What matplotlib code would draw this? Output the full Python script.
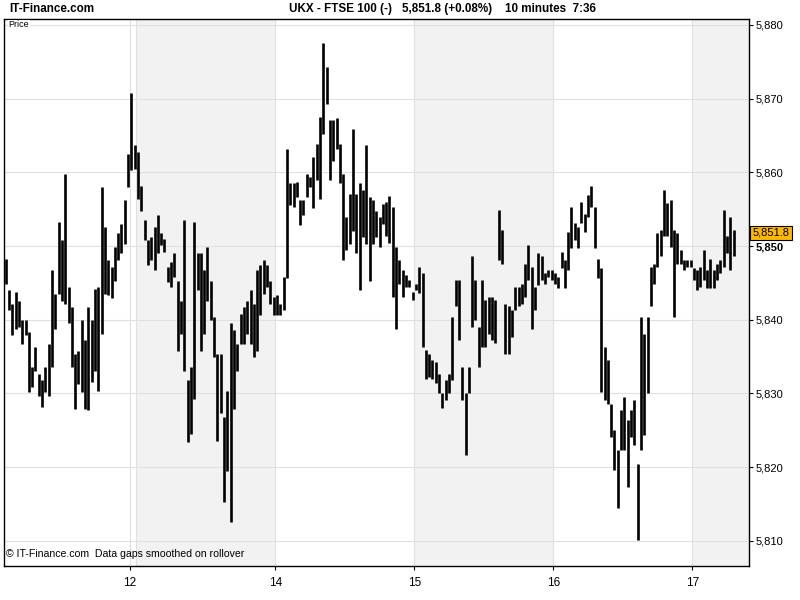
import matplotlib.pyplot as plt
from matplotlib.ticker import FuncFormatter
import numpy as np

plt.rcParams['font.family'] = ['Liberation Sans', 'DejaVu Sans']

# 10 minute bars, high / low
highs = [
    5848.3, 5844.1, 5842.2, 5843.8, 5842.6, 5839.9, 5839.9, 5838.3, 5833.6, 5836.3,
    5832.7, 5831.8, 5833.6, 5836.7, 5846.7, 5843.5, 5853.3, 5850.8, 5859.8, 5844.4,
    5841.7, 5835.4, 5835.8, 5839.9, 5837.2, 5841.7, 5839.9, 5844.2, 5844.4, 5858.0,
    5852.6, 5848.1, 5847.1, 5849.9, 5851.7, 5853.0, 5856.2, 5862.5, 5870.7, 5863.7,
    5862.8, 5858.2, 5853.5, 5850.8, 5851.2, 5852.6, 5854.2, 5851.7, 5851.0, 5847.1,
    5847.8, 5849.0, 5845.3, 5842.6, 5853.5, 5831.8, 5833.6, 5853.3, 5849.0, 5849.0,
    5846.7, 5849.9, 5845.3, 5840.4, 5835.4, 5835.4, 5826.8, 5830.4, 5839.5, 5838.6,
    5836.7, 5840.8, 5841.7, 5842.6, 5844.0, 5842.2, 5846.7, 5847.4, 5848.1, 5847.4,
    5845.3, 5843.1, 5843.3, 5842.2, 5845.8, 5863.2, 5858.5, 5858.5, 5858.7, 5856.2,
    5856.2, 5859.8, 5859.4, 5862.1, 5863.9, 5867.5, 5877.5, 5874.3, 5867.1, 5867.1,
    5867.3, 5863.9, 5859.8, 5853.9, 5857.1, 5865.9, 5857.1, 5858.5, 5857.6, 5863.7,
    5856.7, 5856.2, 5854.8, 5853.9, 5855.7, 5856.0, 5856.8, 5855.3, 5849.9, 5848.1,
    5846.7, 5846.1, 5845.4, 5843.8, 5844.9, 5847.2, 5846.3, 5835.9, 5835.4, 5834.5,
    5834.3, 5832.7, 5830.0, 5831.8, 5832.7, 5840.4, 5845.4, 5845.4, 5833.6, 5830.0,
    5833.6, 5848.6, 5845.4, 5839.0, 5845.4, 5842.7, 5843.1, 5843.1, 5842.7, 5854.9,
    5852.2, 5842.2, 5841.8, 5841.3, 5844.5, 5844.5, 5844.9, 5847.6, 5850.1, 5847.2,
    5844.5, 5849.0, 5848.6, 5846.3, 5846.7, 5846.7, 5846.3, 5845.8, 5849.2, 5848.1,
    5851.9, 5855.3, 5853.1, 5852.6, 5856.0, 5854.4, 5856.9, 5858.1, 5855.3, 5848.3,
    5847.0, 5836.3, 5834.5, 5828.6, 5825.0, 5822.3, 5827.7, 5829.5, 5826.4, 5827.7,
    5829.1, 5820.5, 5840.4, 5838.1, 5840.4, 5847.2, 5847.6, 5851.7, 5852.2, 5857.6,
    5855.8, 5856.2, 5852.2, 5851.7, 5849.5, 5848.1, 5848.1, 5848.1, 5847.0, 5846.7,
    5847.2, 5849.5, 5846.7, 5848.3, 5846.7, 5847.6, 5848.1, 5854.9, 5851.3, 5854.0,
    5852.2,
]
lows = [
    5844.9, 5841.3, 5837.9, 5838.8, 5839.0, 5836.7, 5837.9, 5830.2, 5830.9, 5833.1,
    5829.7, 5828.1, 5830.2, 5829.7, 5833.6, 5838.8, 5843.5, 5842.6, 5842.2, 5839.5,
    5833.6, 5827.9, 5831.3, 5830.2, 5827.9, 5827.7, 5831.5, 5833.1, 5830.4, 5838.1,
    5843.5, 5843.3, 5843.0, 5845.3, 5848.1, 5849.0, 5850.3, 5858.0, 5860.3, 5860.5,
    5856.4, 5854.8, 5850.8, 5847.4, 5848.1, 5846.7, 5849.0, 5850.1, 5849.2, 5845.1,
    5844.4, 5845.8, 5835.8, 5838.1, 5833.1, 5823.4, 5824.5, 5829.3, 5844.0, 5835.8,
    5838.1, 5842.6, 5839.9, 5834.9, 5823.6, 5827.3, 5815.3, 5819.5, 5812.6, 5827.9,
    5833.1, 5836.7, 5836.7, 5838.1, 5836.7, 5834.9, 5835.8, 5840.6, 5843.5, 5844.4,
    5842.2, 5840.6, 5840.6, 5840.6, 5841.3, 5845.6, 5855.5, 5855.3, 5856.7, 5852.8,
    5854.2, 5856.7, 5858.0, 5855.1, 5858.9, 5856.4, 5865.2, 5869.3, 5858.9, 5861.6,
    5863.2, 5858.5, 5848.1, 5849.4, 5850.3, 5852.1, 5849.0, 5844.0, 5851.2, 5850.3,
    5845.3, 5850.3, 5851.2, 5849.9, 5853.0, 5851.3, 5850.4, 5843.1, 5838.8, 5844.9,
    5843.1, 5844.5, 5844.5, 5842.7, 5844.0, 5843.6, 5836.3, 5832.0, 5832.3, 5832.0,
    5831.4, 5830.0, 5828.0, 5829.1, 5830.0, 5831.8, 5841.8, 5837.2, 5829.1, 5821.6,
    5830.0, 5839.0, 5840.0, 5833.6, 5836.3, 5836.3, 5838.1, 5837.2, 5836.8, 5848.1,
    5847.6, 5835.4, 5835.4, 5837.7, 5841.3, 5841.8, 5842.2, 5843.1, 5845.4, 5838.8,
    5841.3, 5844.7, 5845.4, 5844.9, 5845.8, 5845.4, 5844.9, 5844.3, 5847.0, 5844.3,
    5846.7, 5849.7, 5850.8, 5849.7, 5853.1, 5851.9, 5854.0, 5855.3, 5849.7, 5845.6,
    5830.2, 5829.1, 5828.6, 5824.1, 5819.6, 5814.4, 5822.3, 5822.3, 5817.3, 5824.1,
    5823.0, 5810.1, 5822.3, 5824.3, 5830.0, 5841.8, 5844.9, 5847.2, 5848.6, 5851.3,
    5851.3, 5849.9, 5840.4, 5847.6, 5847.6, 5846.7, 5847.2, 5847.2, 5845.4, 5844.0,
    5844.5, 5845.4, 5844.3, 5844.3, 5844.3, 5845.4, 5846.3, 5847.2, 5849.0, 5846.7,
    5848.6,
]
last_price = 5851.8

# day boundaries (bar index) and date ticks
day_starts = [39.5, 81.5, 123.5, 165.5, 207.5]
tick_pos = [37.5, 81.5, 123.5, 165.5, 207.5]
tick_labels = ['12', '14', '15', '16', '17']
price_ticks = [5810, 5820, 5830, 5840, 5850, 5860, 5870, 5880]

x = np.arange(len(highs))
x_max = 224.6

fig = plt.figure(figsize=(8, 6), dpi=100)
ax = fig.add_axes([0.005, 0.0567, 0.931, 0.9117])

# shaded alternate days
edges = day_starts + [x_max]
for i in range(0, len(edges) - 1, 2):
    ax.axvspan(edges[i], edges[i + 1], color='#f2f2f2', lw=0, zorder=0)

for p in price_ticks:
    ax.axhline(p, color='#e0e0e0', lw=0.8, zorder=1)
for d in sorted(set(day_starts + tick_pos)):
    ax.axvline(d, color='#e0e0e0', lw=0.8, zorder=1)

ax.vlines(x, lows, highs, color='black', lw=1.9, zorder=3)

ax.set_xlim(-0.5, x_max)
ax.set_ylim(5806.6, 5880.8)

ax.yaxis.tick_right()
ax.set_yticks(price_ticks)
ax.yaxis.set_major_formatter(FuncFormatter(lambda v, p: f'{v:,.0f}'))
ax.tick_params(axis='y', direction='out', length=3, width=0.8, pad=2,
               labelsize=8, colors='black')
ax.set_xticks(tick_pos)
ax.set_xticklabels(tick_labels)
ax.tick_params(axis='x', direction='out', length=3, width=0.8, pad=5,
               labelsize=8.5)
for lab in ax.get_yticklabels():
    if lab.get_text() == '5,850':
        lab.set_fontweight('bold')

for s in ax.spines.values():
    s.set_linewidth(1.0)
    s.set_color('black')

ax.text(0.006, 0.989, 'Price', transform=ax.transAxes, fontsize=6.5,
        va='center', ha='left', zorder=5,
        bbox=dict(facecolor='white', edgecolor='none', pad=0.5))
ax.text(0.003, 0.012, '\u00a9 IT-Finance.com  Data gaps smoothed on rollover',
        transform=ax.transAxes, fontsize=7.6, va='bottom', ha='left', zorder=5)

ax.text(1.005, last_price, f'{last_price:,.1f}',
        transform=ax.get_yaxis_transform(), fontsize=8, va='center',
        ha='left', zorder=6, clip_on=False,
        bbox=dict(facecolor='#ffb800', edgecolor='black', lw=0.8, pad=1.5))

# header line
fig.text(9 / 800, 0.985, 'IT-Finance.com', fontsize=8.4, fontweight='bold',
         va='center', ha='left')
fig.text(289 / 800, 0.985, 'UKX - FTSE 100 (-)', fontsize=8.4,
         fontweight='bold', va='center', ha='left')
fig.text(402 / 800, 0.985, '5,851.8 (+0.08%)', fontsize=8.4,
         fontweight='bold', va='center', ha='left')
fig.text(505 / 800, 0.985, '10 minutes  7:36', fontsize=8.4,
         fontweight='bold', va='center', ha='left')

fig.savefig('out.png', dpi=100)
